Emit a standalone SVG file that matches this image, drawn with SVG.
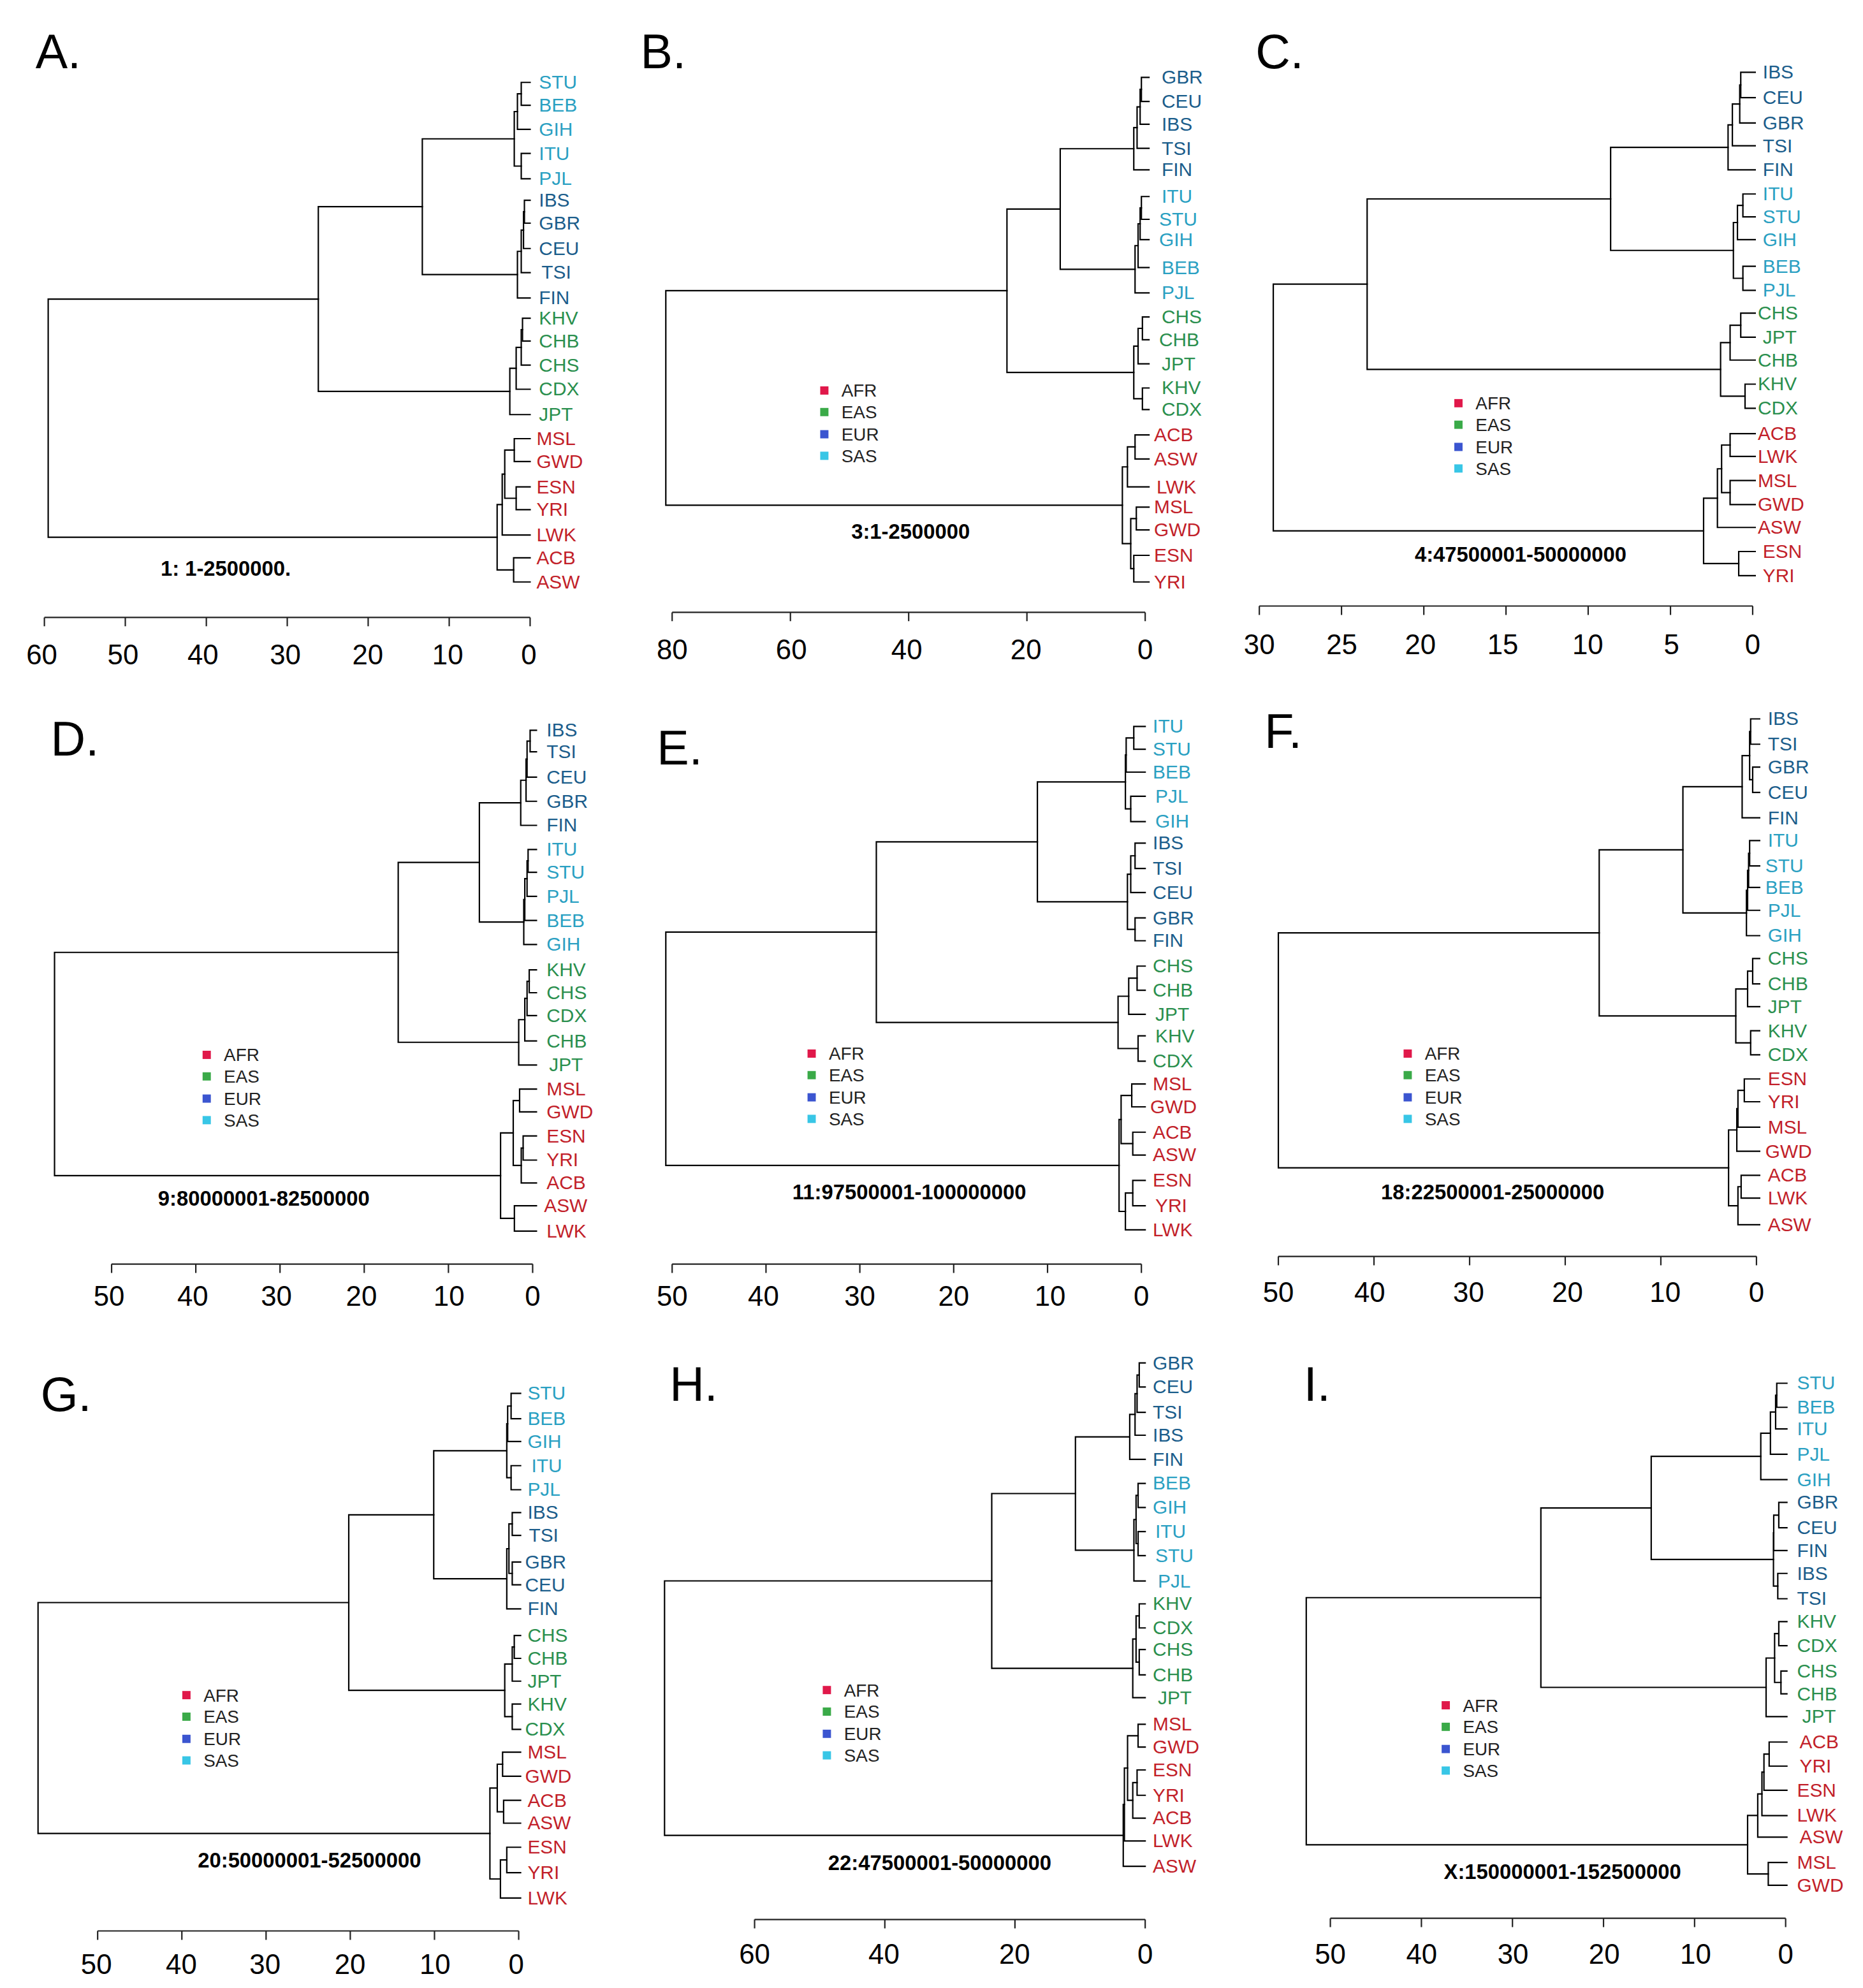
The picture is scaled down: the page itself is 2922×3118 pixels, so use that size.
<svg xmlns="http://www.w3.org/2000/svg" xmlns:xlink="http://www.w3.org/1999/xlink" width="2922" height="3118" viewBox="0 0 2922 3118">
<style>
.tree path{fill:none;stroke:#000;stroke-width:1.1;stroke-linecap:square}
.axis path{fill:none;stroke:#222;stroke-width:1.1}
.axis text{font-family:"Liberation Sans",Arial,sans-serif;font-size:22px;fill:#000;text-anchor:middle}
.lab text{font-family:"Liberation Sans",Arial,sans-serif;font-size:15px}
.s{fill:#2aa0c2}.e{fill:#1b5d8b}.a{fill:#2a8f4e}.f{fill:#c21f2a}
.ttl{font-family:"Liberation Sans",Arial,sans-serif;font-size:16.5px;font-weight:bold;fill:#000;text-anchor:middle}
.pl{font-family:"Liberation Sans",Arial,sans-serif;font-size:38px;fill:#000}
.lg text{font-family:"Liberation Sans",Arial,sans-serif;font-size:14px;fill:#222}
</style>
<defs>
<g id="leg" class="lg">
<rect x="-3.25" y="-3.25" width="6.5" height="6.5" fill="#e0184a"/><text x="13.5" y="5">AFR</text>
<rect x="-3.25" y="13.75" width="6.5" height="6.5" fill="#3aaa48"/><text x="13.5" y="22">EAS</text>
<rect x="-3.25" y="31.25" width="6.5" height="6.5" fill="#3b55d0"/><text x="13.5" y="39.5">EUR</text>
<rect x="-3.25" y="48.25" width="6.5" height="6.5" fill="#38c6e6"/><text x="13.5" y="56.5">SAS</text>
</g>
</defs>
<rect width="2922" height="3118" fill="#fff"/>
<g transform="scale(1.98911,1.98852)">

<g id="panel-A">
<text class="pl" x="28" y="54">A.</text>
<g id="A-connectors" class="tree">
<path d="M418 65H411V83H418"/><path d="M411 74H408V102H418"/><path d="M418 121H411V141H418"/><path d="M408 88H405.5V131H411"/>
<path d="M418 158H413.5V176H418"/><path d="M413.5 167H412.8V196H418"/><path d="M412.8 181.5H411V215H418"/><path d="M411 198.25H408V235H418"/>
<path d="M405.5 109.5H333V216.6H408"/>
<path d="M418 251H412V269H418"/><path d="M412 260H411V288H418"/><path d="M411 274H407V307H418"/><path d="M407 290.5H402V327H418"/>
<path d="M333 163H251V308.75H402"/>
<path d="M418 346H405.5V364H418"/><path d="M418 384H407V402H418"/><path d="M405.5 355H398V393H407"/><path d="M398 374H396V422H418"/><path d="M418 440H405V459H418"/><path d="M396 398H392V449.5H405"/>
<path d="M251 235.9H38V423.75H392"/>
</g>
<g id="A-leaves" class="lab">
<text x="425" y="70" class="s">STU</text><text x="425" y="88" class="s">BEB</text><text x="425" y="107" class="s">GIH</text><text x="425" y="126" class="s">ITU</text><text x="425" y="146" class="s">PJL</text>
<text x="425" y="163" class="e">IBS</text><text x="425" y="181" class="e">GBR</text><text x="425" y="201" class="e">CEU</text><text x="427" y="220" class="e">TSI</text><text x="425" y="240" class="e">FIN</text>
<text x="425" y="256" class="a">KHV</text><text x="425" y="274" class="a">CHB</text><text x="425" y="293" class="a">CHS</text><text x="425" y="312" class="a">CDX</text><text x="425" y="332" class="a">JPT</text>
<text x="423" y="351" class="f">MSL</text><text x="423" y="369" class="f">GWD</text><text x="423" y="389" class="f">ESN</text><text x="423" y="407" class="f">YRI</text><text x="423" y="427" class="f">LWK</text><text x="423" y="445" class="f">ACB</text><text x="423" y="464" class="f">ASW</text>
</g>
<text class="ttl" x="178" y="454">1: 1-2500000.</text>
<g id="A-axis" class="axis">
<path d="M35 487H418M35 487V494M98.8 487V494M162.7 487V494M226.5 487V494M290.3 487V494M354.2 487V494M418 487V494"/>
<text x="33" y="524">60</text><text x="97" y="524">50</text><text x="160" y="524">40</text><text x="225" y="524">30</text><text x="290" y="524">20</text><text x="353" y="524">10</text><text x="417" y="524">0</text>
</g>
</g>

<g id="panel-B">
<text class="pl" x="505" y="54">B.</text>
<g id="B-connectors" class="tree">
<path d="M906 61H900V80H906"/><path d="M900 70.5H899V98H906"/><path d="M899 84.25H896.6V117H906"/><path d="M896.6 100.6H894V134H906"/>
<path d="M906 155H900V173H906"/><path d="M900 164H899V189H906"/><path d="M899 176.5H897.4V211H906"/><path d="M897.4 193.75H895V231H906"/>
<path d="M894 117.3H836V212.4H895"/>
<path d="M906 250H900.8V268H906"/><path d="M900.8 259H897.4V287H906"/><path d="M906 306H900.8V323H906"/><path d="M897.4 273H894V314.5H900.8"/>
<path d="M836 164.85H794V293.75H894"/>
<path d="M906 343H895V362H906"/><path d="M895 352.5H889V384H906"/><path d="M906 400H896V418H906"/><path d="M906 438H894V459H906"/><path d="M896 409H891.6V448.5H894"/><path d="M889 368.25H885V428.75H891.6"/>
<path d="M794 229.3H525V398.5H885"/>
</g>
<g id="B-leaves" class="lab">
<text x="916" y="66" class="e">GBR</text><text x="916" y="85" class="e">CEU</text><text x="916" y="103" class="e">IBS</text><text x="916" y="122" class="e">TSI</text><text x="916" y="139" class="e">FIN</text>
<text x="916" y="160" class="s">ITU</text><text x="914" y="178" class="s">STU</text><text x="914" y="194" class="s">GIH</text><text x="916" y="216" class="s">BEB</text><text x="916" y="236" class="s">PJL</text>
<text x="916" y="255" class="a">CHS</text><text x="914" y="273" class="a">CHB</text><text x="916" y="292" class="a">JPT</text><text x="916" y="311" class="a">KHV</text><text x="916" y="328" class="a">CDX</text>
<text x="910" y="348" class="f">ACB</text><text x="910" y="367" class="f">ASW</text><text x="912" y="389" class="f">LWK</text><text x="910" y="405" class="f">MSL</text><text x="910" y="423" class="f">GWD</text><text x="910" y="443" class="f">ESN</text><text x="910" y="464" class="f">YRI</text>
</g>
<use xlink:href="#leg" href="#leg" x="650" y="308"/>
<text class="ttl" x="718" y="425">3:1-2500000</text>
<g id="B-axis" class="axis">
<path d="M530 483H903M530 483V490M623.25 483V490M716.5 483V490M809.75 483V490M903 483V490"/>
<text x="530" y="520">80</text><text x="624" y="520">60</text><text x="715" y="520">40</text><text x="809" y="520">20</text><text x="903" y="520">0</text>
</g>
</g>

<g id="panel-C">
<text class="pl" x="990" y="54">C.</text>
<g id="C-connectors" class="tree">
<path d="M1384 57H1372.6V77H1384"/><path d="M1372.6 67H1371.8V97H1384"/><path d="M1371.8 82H1366V115H1384"/><path d="M1366 98.5H1362.6V134H1384"/>
<path d="M1384 153H1374.3V171H1384"/><path d="M1374.3 162H1370V189H1384"/><path d="M1384 210H1374.3V229H1384"/><path d="M1370 175.5H1366.8V219.5H1374.3"/>
<path d="M1362.6 116.25H1270V197.5H1366.8"/>
<path d="M1384 247H1372.6V266H1384"/><path d="M1372.6 256.5H1364.2V284H1384"/><path d="M1384 303H1376V322H1384"/><path d="M1364.2 270.25H1356.7V312.5H1376"/>
<path d="M1270 156.9H1078V291.4H1356.7"/>
<path d="M1384 342H1364.2V360H1384"/><path d="M1384 379H1364.2V398H1384"/><path d="M1364.2 351H1357.5V388.5H1364.2"/><path d="M1357.5 369.75H1354.2V416H1384"/><path d="M1384 435H1371V454H1384"/><path d="M1354.2 392.9H1343.3V444.5H1371"/>
<path d="M1078 224.1H1004V418.7H1343.3"/>
</g>
<g id="C-leaves" class="lab">
<text x="1390" y="62" class="e">IBS</text><text x="1390" y="82" class="e">CEU</text><text x="1390" y="102" class="e">GBR</text><text x="1390" y="120" class="e">TSI</text><text x="1390" y="139" class="e">FIN</text>
<text x="1390" y="158" class="s">ITU</text><text x="1390" y="176" class="s">STU</text><text x="1390" y="194" class="s">GIH</text><text x="1390" y="215" class="s">BEB</text><text x="1390" y="234" class="s">PJL</text>
<text x="1386" y="252" class="a">CHS</text><text x="1390" y="271" class="a">JPT</text><text x="1386" y="289" class="a">CHB</text><text x="1386" y="308" class="a">KHV</text><text x="1386" y="327" class="a">CDX</text>
<text x="1386" y="347" class="f">ACB</text><text x="1386" y="365" class="f">LWK</text><text x="1386" y="384" class="f">MSL</text><text x="1386" y="403" class="f">GWD</text><text x="1386" y="421" class="f">ASW</text><text x="1390" y="440" class="f">ESN</text><text x="1390" y="459" class="f">YRI</text>
</g>
<use xlink:href="#leg" href="#leg" x="1150" y="318"/>
<text class="ttl" x="1199" y="443">4:47500001-50000000</text>
<g id="C-axis" class="axis">
<path d="M993 478H1382M993 478V485M1057.8 478V485M1122.7 478V485M1187.5 478V485M1252.3 478V485M1317.2 478V485M1382 478V485"/>
<text x="993" y="516">30</text><text x="1058" y="516">25</text><text x="1120" y="516">20</text><text x="1185" y="516">15</text><text x="1252" y="516">10</text><text x="1318" y="516">5</text><text x="1382" y="516">0</text>
</g>
</g>

<g id="panel-D">
<text class="pl" x="40" y="596">D.</text>
<g id="D-connectors" class="tree">
<path d="M423 576H418V593H423"/><path d="M418 584.5H415.6V613H423"/><path d="M415.6 598.75H414.8V632H423"/><path d="M414.8 615.4H410.6V651H423"/>
<path d="M423 670H416.4V688H423"/><path d="M416.4 679H415.6V707H423"/><path d="M415.6 693H413.8V726H423"/><path d="M413.8 709.5H413V745H423"/>
<path d="M410.6 633.2H378V727.25H413"/>
<path d="M423 765H417.3V783H423"/><path d="M417.3 774H415.6V801H423"/><path d="M415.6 787.5H413.8V821H423"/><path d="M413.8 804.25H409V840H423"/>
<path d="M378 680.2H314V822.1H409"/>
<path d="M423 859H409.7V877H423"/><path d="M423 896H412.5V915H423"/><path d="M412.5 905.5H411V933H423"/><path d="M409.7 868H404.7V919.25H411"/><path d="M423 951H405.6V971H423"/><path d="M404.7 893.6H394.7V961H405.6"/>
<path d="M314 751.2H43V927.3H394.7"/>
</g>
<g id="D-leaves" class="lab">
<text x="431" y="581" class="e">IBS</text><text x="431" y="598" class="e">TSI</text><text x="431" y="618" class="e">CEU</text><text x="431" y="637" class="e">GBR</text><text x="431" y="656" class="e">FIN</text>
<text x="431" y="675" class="s">ITU</text><text x="431" y="693" class="s">STU</text><text x="431" y="712" class="s">PJL</text><text x="431" y="731" class="s">BEB</text><text x="431" y="750" class="s">GIH</text>
<text x="431" y="770" class="a">KHV</text><text x="431" y="788" class="a">CHS</text><text x="431" y="806" class="a">CDX</text><text x="431" y="826" class="a">CHB</text><text x="433" y="845" class="a">JPT</text>
<text x="431" y="864" class="f">MSL</text><text x="431" y="882" class="f">GWD</text><text x="431" y="901" class="f">ESN</text><text x="431" y="920" class="f">YRI</text><text x="431" y="938" class="f">ACB</text><text x="429" y="956" class="f">ASW</text><text x="431" y="976" class="f">LWK</text>
</g>
<use xlink:href="#leg" href="#leg" x="163" y="832"/>
<text class="ttl" x="208" y="951">9:80000001-82500000</text>
<g id="D-axis" class="axis">
<path d="M88 997H420M88 997V1004M154.4 997V1004M220.8 997V1004M287.2 997V1004M353.6 997V1004M420 997V1004"/>
<text x="86" y="1030">50</text><text x="152" y="1030">40</text><text x="218" y="1030">30</text><text x="285" y="1030">20</text><text x="354" y="1030">10</text><text x="420" y="1030">0</text>
</g>
</g>

<g id="panel-E">
<text class="pl" x="518" y="603">E.</text>
<g id="E-connectors" class="tree">
<path d="M903 573H894V591H903"/><path d="M894 582H888V609H903"/><path d="M903 628H891.6V648H903"/><path d="M888 595.5H887.4V638H891.6"/>
<path d="M903 665H895V685H903"/><path d="M895 675H891.6V704H903"/><path d="M903 724H895V742H903"/><path d="M891.6 689.5H889V733H895"/>
<path d="M887.4 616.75H818V711.25H889"/>
<path d="M903 762H896.6V781H903"/><path d="M896.6 771.5H890V800H903"/><path d="M903 817H897.4V837H903"/><path d="M890 785.75H881.6V827H897.4"/>
<path d="M818 664H691V806.4H881.6"/>
<path d="M903 855H892.4V873H903"/><path d="M903 893H893.2V911H903"/><path d="M892.4 864H884V902H893.2"/><path d="M903 931H893.2V951H903"/><path d="M893.2 941H887.4V970H903"/><path d="M884 883H882.4V955.5H887.4"/>
<path d="M691 735.2H525V919.25H882.4"/>
</g>
<g id="E-leaves" class="lab">
<text x="909" y="578" class="s">ITU</text><text x="909" y="596" class="s">STU</text><text x="909" y="614" class="s">BEB</text><text x="911" y="633" class="s">PJL</text><text x="911" y="653" class="s">GIH</text>
<text x="909" y="670" class="e">IBS</text><text x="909" y="690" class="e">TSI</text><text x="909" y="709" class="e">CEU</text><text x="909" y="729" class="e">GBR</text><text x="909" y="747" class="e">FIN</text>
<text x="909" y="767" class="a">CHS</text><text x="909" y="786" class="a">CHB</text><text x="911" y="805" class="a">JPT</text><text x="911" y="822" class="a">KHV</text><text x="909" y="842" class="a">CDX</text>
<text x="909" y="860" class="f">MSL</text><text x="907" y="878" class="f">GWD</text><text x="909" y="898" class="f">ACB</text><text x="909" y="916" class="f">ASW</text><text x="909" y="936" class="f">ESN</text><text x="911" y="956" class="f">YRI</text><text x="909" y="975" class="f">LWK</text>
</g>
<use xlink:href="#leg" href="#leg" x="640" y="831"/>
<text class="ttl" x="717" y="946">11:97500001-100000000</text>
<g id="E-axis" class="axis">
<path d="M530 997H900M530 997V1004M604 997V1004M678 997V1004M752 997V1004M826 997V1004M900 997V1004"/>
<text x="530" y="1030">50</text><text x="602" y="1030">40</text><text x="678" y="1030">30</text><text x="752" y="1030">20</text><text x="828" y="1030">10</text><text x="900" y="1030">0</text>
</g>
</g>

<g id="panel-F">
<text class="pl" x="997" y="590">F.</text>
<g id="F-connectors" class="tree">
<path d="M1387.5 567H1380.4V587H1387.5"/><path d="M1387.5 605H1382V625H1387.5"/><path d="M1380.4 577H1379.6V615H1382"/><path d="M1379.6 596H1373.7V645H1387.5"/>
<path d="M1387.5 663H1379.6V683H1387.5"/><path d="M1379.6 673H1378.8V700H1387.5"/><path d="M1378.8 686.5H1378V718H1387.5"/><path d="M1378 702.25H1377.1V738H1387.5"/>
<path d="M1373.7 620.5H1327V720.1H1377.1"/>
<path d="M1387.5 756H1382V776H1387.5"/><path d="M1382 766H1378V794H1387.5"/><path d="M1387.5 813H1380.4V832H1387.5"/><path d="M1378 780H1368.7V822.5H1380.4"/>
<path d="M1327 670.3H1261V801.25H1368.7"/>
<path d="M1387.5 851H1375.4V869H1387.5"/><path d="M1375.4 860H1370.4V889H1387.5"/><path d="M1370.4 874.5H1369.5V908H1387.5"/><path d="M1387.5 927H1372.9V945H1387.5"/><path d="M1372.9 936H1370.4V966H1387.5"/><path d="M1369.5 891.25H1363V951H1370.4"/>
<path d="M1261 735.8H1008V921.1H1363"/>
</g>
<g id="F-leaves" class="lab">
<text x="1394" y="572" class="e">IBS</text><text x="1394" y="592" class="e">TSI</text><text x="1394" y="610" class="e">GBR</text><text x="1394" y="630" class="e">CEU</text><text x="1394" y="650" class="e">FIN</text>
<text x="1394" y="668" class="s">ITU</text><text x="1392" y="688" class="s">STU</text><text x="1392" y="705" class="s">BEB</text><text x="1394" y="723" class="s">PJL</text><text x="1394" y="743" class="s">GIH</text>
<text x="1394" y="761" class="a">CHS</text><text x="1394" y="781" class="a">CHB</text><text x="1394" y="799" class="a">JPT</text><text x="1394" y="818" class="a">KHV</text><text x="1394" y="837" class="a">CDX</text>
<text x="1394" y="856" class="f">ESN</text><text x="1394" y="874" class="f">YRI</text><text x="1394" y="894" class="f">MSL</text><text x="1392" y="913" class="f">GWD</text><text x="1394" y="932" class="f">ACB</text><text x="1394" y="950" class="f">LWK</text><text x="1394" y="971" class="f">ASW</text>
</g>
<use xlink:href="#leg" href="#leg" x="1110" y="831"/>
<text class="ttl" x="1177" y="946">18:22500001-25000000</text>
<g id="F-axis" class="axis">
<path d="M1008 991H1385M1008 991V998M1083.4 991V998M1158.8 991V998M1234.2 991V998M1309.6 991V998M1385 991V998"/>
<text x="1008" y="1027">50</text><text x="1080" y="1027">40</text><text x="1158" y="1027">30</text><text x="1236" y="1027">20</text><text x="1313" y="1027">10</text><text x="1385" y="1027">0</text>
</g>
</g>

<g id="panel-G">
<text class="pl" x="32" y="1113">G.</text>
<g id="G-connectors" class="tree">
<path d="M410.5 1099H403V1119H410.5"/><path d="M403 1109H400.3V1137H410.5"/><path d="M410.5 1156H403V1175H410.5"/><path d="M400.3 1123H399.6V1165.5H403"/>
<path d="M410.5 1193H403.9V1211H410.5"/><path d="M410.5 1232H403.9V1250H410.5"/><path d="M403.9 1202H401.3V1241H403.9"/><path d="M401.3 1221.5H399.6V1269H410.5"/>
<path d="M399.6 1144.25H342V1245.25H399.6"/>
<path d="M410.5 1290H405.5V1308H410.5"/><path d="M405.5 1299H403.9V1326H410.5"/><path d="M410.5 1344H403.9V1364H410.5"/><path d="M403.9 1312.5H398V1354H403.9"/>
<path d="M342 1194.75H275V1333.25H398"/>
<path d="M410.5 1382H396.3V1401H410.5"/><path d="M410.5 1420H397.1V1438H410.5"/><path d="M396.3 1391.5H392.1V1429H397.1"/><path d="M410.5 1457H399.6V1477H410.5"/><path d="M399.6 1467H394.6V1497H410.5"/><path d="M392.1 1410.25H386.3V1482H394.6"/>
<path d="M275 1264H30V1446.1H386.3"/>
</g>
<g id="G-leaves" class="lab">
<text x="416" y="1104" class="s">STU</text><text x="416" y="1124" class="s">BEB</text><text x="416" y="1142" class="s">GIH</text><text x="419" y="1161" class="s">ITU</text><text x="416" y="1180" class="s">PJL</text>
<text x="416" y="1198" class="e">IBS</text><text x="417" y="1216" class="e">TSI</text><text x="414" y="1237" class="e">GBR</text><text x="414" y="1255" class="e">CEU</text><text x="416" y="1274" class="e">FIN</text>
<text x="416" y="1295" class="a">CHS</text><text x="416" y="1313" class="a">CHB</text><text x="416" y="1331" class="a">JPT</text><text x="416" y="1349" class="a">KHV</text><text x="414" y="1369" class="a">CDX</text>
<text x="416" y="1387" class="f">MSL</text><text x="414" y="1406" class="f">GWD</text><text x="416" y="1425" class="f">ACB</text><text x="416" y="1443" class="f">ASW</text><text x="416" y="1462" class="f">ESN</text><text x="416" y="1482" class="f">YRI</text><text x="416" y="1502" class="f">LWK</text>
</g>
<use xlink:href="#leg" href="#leg" x="147" y="1337"/>
<text class="ttl" x="244" y="1473">20:50000001-52500000</text>
<g id="G-axis" class="axis">
<path d="M77 1523H409M77 1523V1530M143.4 1523V1530M209.8 1523V1530M276.2 1523V1530M342.6 1523V1530M409 1523V1530"/>
<text x="76" y="1557">50</text><text x="143" y="1557">40</text><text x="209" y="1557">30</text><text x="276" y="1557">20</text><text x="343" y="1557">10</text><text x="407" y="1557">0</text>
</g>
</g>

<g id="panel-H">
<text class="pl" x="528" y="1105">H.</text>
<g id="H-connectors" class="tree">
<path d="M903 1075H898.3V1094H903"/><path d="M898.3 1084.5H896.6V1114H903"/><path d="M896.6 1099.25H895V1132H903"/><path d="M895 1115.6H890.8V1151H903"/>
<path d="M903 1170H897.4V1189H903"/><path d="M903 1208H897.4V1227H903"/><path d="M897.4 1179.5H895.8V1217.5H897.4"/><path d="M895.8 1198.5H894.1V1247H903"/>
<path d="M890.8 1133.3H848V1222.75H894.1"/>
<path d="M903 1265H898.3V1284H903"/><path d="M903 1301H898.3V1321H903"/><path d="M898.3 1274.5H895.8V1311H898.3"/><path d="M895.8 1292.75H893.2V1339H903"/>
<path d="M848 1178H782V1315.9H893.2"/>
<path d="M903 1360H897.4V1378H903"/><path d="M903 1396H896.6V1416H903"/><path d="M896.6 1406H893.2V1434H903"/><path d="M897.4 1369H889.1V1420H893.2"/><path d="M889.1 1394.5H886.6V1452H903"/><path d="M886.6 1423.25H885.7V1472H903"/>
<path d="M782 1246.9H524V1447.6H885.7"/>
</g>
<g id="H-leaves" class="lab">
<text x="909" y="1080" class="e">GBR</text><text x="909" y="1099" class="e">CEU</text><text x="909" y="1119" class="e">TSI</text><text x="909" y="1137" class="e">IBS</text><text x="909" y="1156" class="e">FIN</text>
<text x="909" y="1175" class="s">BEB</text><text x="909" y="1194" class="s">GIH</text><text x="911" y="1213" class="s">ITU</text><text x="911" y="1232" class="s">STU</text><text x="913" y="1252" class="s">PJL</text>
<text x="909" y="1270" class="a">KHV</text><text x="909" y="1289" class="a">CDX</text><text x="909" y="1306" class="a">CHS</text><text x="909" y="1326" class="a">CHB</text><text x="913" y="1344" class="a">JPT</text>
<text x="909" y="1365" class="f">MSL</text><text x="909" y="1383" class="f">GWD</text><text x="909" y="1401" class="f">ESN</text><text x="909" y="1421" class="f">YRI</text><text x="909" y="1439" class="f">ACB</text><text x="909" y="1457" class="f">LWK</text><text x="909" y="1477" class="f">ASW</text>
</g>
<use xlink:href="#leg" href="#leg" x="652" y="1333"/>
<text class="ttl" x="741" y="1475">22:47500001-50000000</text>
<g id="H-axis" class="axis">
<path d="M595 1514H903M595 1514V1521M697.7 1514V1521M800.3 1514V1521M903 1514V1521"/>
<text x="595" y="1549">60</text><text x="697" y="1549">40</text><text x="800" y="1549">20</text><text x="903" y="1549">0</text>
</g>
</g>

<g id="panel-I">
<text class="pl" x="1028" y="1105">I.</text>
<g id="I-connectors" class="tree">
<path d="M1409 1091H1401V1110H1409"/><path d="M1401 1100.5H1400.1V1127H1409"/><path d="M1400.1 1113.75H1396V1147H1409"/><path d="M1396 1130.4H1388.4V1167H1409"/>
<path d="M1409 1185H1402.6V1205H1409"/><path d="M1402.6 1195H1398.6V1223H1409"/><path d="M1409 1241H1401.8V1261H1409"/><path d="M1398.6 1209H1398.4V1251H1401.8"/>
<path d="M1388.4 1148.7H1302V1230H1398.4"/>
<path d="M1409 1279H1402.6V1298H1409"/><path d="M1409 1318H1404.3V1336H1409"/><path d="M1402.6 1288.5H1399.3V1327H1404.3"/><path d="M1399.3 1307.75H1392.6V1354H1409"/>
<path d="M1302 1189.35H1215V1330.9H1392.6"/>
<path d="M1409 1374H1395V1393H1409"/><path d="M1395 1383.5H1390.9V1412H1409"/><path d="M1390.9 1397.75H1389.3V1432H1409"/><path d="M1389.3 1414.9H1386V1449H1409"/><path d="M1409 1469H1394.3V1487H1409"/><path d="M1386 1431.9H1378V1478H1394.3"/>
<path d="M1215 1260.1H1030V1455H1378"/>
</g>
<g id="I-leaves" class="lab">
<text x="1417" y="1096" class="s">STU</text><text x="1417" y="1115" class="s">BEB</text><text x="1417" y="1132" class="s">ITU</text><text x="1417" y="1152" class="s">PJL</text><text x="1417" y="1172" class="s">GIH</text>
<text x="1417" y="1190" class="e">GBR</text><text x="1417" y="1210" class="e">CEU</text><text x="1417" y="1228" class="e">FIN</text><text x="1417" y="1246" class="e">IBS</text><text x="1417" y="1266" class="e">TSI</text>
<text x="1417" y="1284" class="a">KHV</text><text x="1417" y="1303" class="a">CDX</text><text x="1417" y="1323" class="a">CHS</text><text x="1417" y="1341" class="a">CHB</text><text x="1421" y="1359" class="a">JPT</text>
<text x="1419" y="1379" class="f">ACB</text><text x="1419" y="1398" class="f">YRI</text><text x="1417" y="1417" class="f">ESN</text><text x="1417" y="1437" class="f">LWK</text><text x="1419" y="1454" class="f">ASW</text><text x="1417" y="1474" class="f">MSL</text><text x="1417" y="1492" class="f">GWD</text>
</g>
<use xlink:href="#leg" href="#leg" x="1140" y="1345"/>
<text class="ttl" x="1232" y="1482">X:150000001-152500000</text>
<g id="I-axis" class="axis">
<path d="M1049 1513H1408M1049 1513V1520M1120.8 1513V1520M1192.6 1513V1520M1264.4 1513V1520M1336.2 1513V1520M1408 1513V1520"/>
<text x="1049" y="1549">50</text><text x="1121" y="1549">40</text><text x="1193" y="1549">30</text><text x="1265" y="1549">20</text><text x="1337" y="1549">10</text><text x="1408" y="1549">0</text>
</g>
</g>

</g>
</svg>
